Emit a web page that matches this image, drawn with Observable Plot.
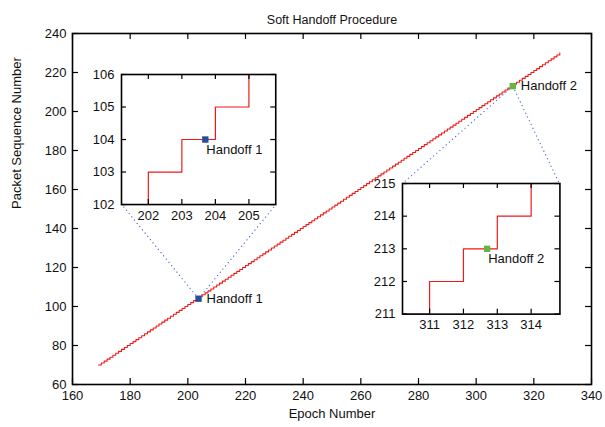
<!DOCTYPE html>
<html><head><meta charset="utf-8">
<script src="https://cdn.jsdelivr.net/npm/d3@7"></script>
<script src="https://cdn.jsdelivr.net/npm/@observablehq/plot@0.6"></script>
<style>
body{margin:0;background:#fff;}
#wrap{position:relative;width:605px;height:427px;}
#wrap svg{position:absolute;left:0;top:0;}
</style></head><body><div id="wrap"></div>
<script>
// Packet sequence staircase (epoch, sequence number)
const epochs = [169,170,171,172,173,174,175,176,177,178,179,
180,181,182,183,184,185,186,187,188,189,190,191,192,193,194,195,196,197,198,199,
200,201,202,203,204,205,206,207,208,209,210,211,212,213,214,215,216,217,218,219,
220,221,222,223,224,225,226,227,228,229,230,231,232,233,234,235,236,237,238,239,
240,241,242,243,244,245,246,247,248,249,250,251,252,253,254,255,256,257,258,259,
260,261,262,263,264,265,266,267,268,269,270,271,272,273,274,275,276,277,278,279,
280,281,282,283,284,285,286,287,288,289,290,291,292,293,294,295,296,297,298,299,
300,301,302,303,304,305,306,307,308,309,310,311,312,313,314,315,316,317,318,319,
320,321,322,323,324,325,326,327,328,329];
const seqs = [70,71,72,73,74,75,76,77,78,79,80,
81,82,83,84,85,86,87,88,89,90,91,92,93,94,95,96,97,98,99,100,
101,102,103,104,105,106,107,108,109,110,111,112,113,114,115,116,117,118,119,120,
121,122,123,124,125,126,127,128,129,130,131,132,133,134,135,136,137,138,139,140,
141,142,143,144,145,146,147,148,149,150,151,152,153,154,155,156,157,158,159,160,
161,162,163,164,165,166,167,168,169,170,171,172,173,174,175,176,177,178,179,180,
181,182,183,184,185,186,187,188,189,190,191,192,193,194,195,196,197,198,199,200,
201,202,203,204,205,206,207,208,209,210,211,212,213,214,215,216,217,218,219,220,
221,222,223,224,225,226,227,228,229,230];

const xTicks = [160,180,200,220,240,260,280,300,320,340];
const yTicks = [60,80,100,120,140,160,180,200,220,240];

const handoffNames = ["Handoff 1","Handoff 2"];
const handoffEpochs = [203.7, 312.7];
const handoffSeqs = [104, 213];
const handoffColors = ["#2b4b9b","#67b446"];

const inset1XTicks = [202,203,204,205];
const inset1YTicks = [102,103,104,105,106];
const inset2XTicks = [311,312,313,314];
const inset2YTicks = [211,212,213,214,215];
const inset1XDomain = [201.2,205.8], inset1YDomain = [102,106];
const inset2XDomain = [310.2,314.85], inset2YDomain = [211,215];

// inset placement, in main-axes coordinates
const inset1Box = {x1:177.1, x2:230.6, y1:152.3, y2:219};
const inset2Box = {x1:274.3, x2:328.9, y1:95.9, y2:162.9};

const FONT = "'Liberation Sans', Arial, Helvetica, sans-serif";
const RED = "#ee1a1a";
const pts = epochs.map((e,i)=>({x:e, y:seqs[i]}));
const handoffs = handoffNames.map((n,i)=>({name:n, x:handoffEpochs[i], y:handoffSeqs[i], c:handoffColors[i]}));
const links = [
  {x1:handoffEpochs[0], y1:handoffSeqs[0], x2:inset1Box.x1, y2:inset1Box.y1},
  {x1:handoffEpochs[0], y1:handoffSeqs[0], x2:inset1Box.x2, y2:inset1Box.y1},
  {x1:handoffEpochs[1], y1:handoffSeqs[1], x2:inset2Box.x1, y2:inset2Box.y2},
  {x1:handoffEpochs[1], y1:handoffSeqs[1], x2:inset2Box.x2, y2:inset2Box.y2}
];

const W = 605, H = 427, mL = 72, mR = 14, mT = 33, mB = 43;
const pW = W-mL-mR, pH = H-mT-mB;
const TK = 6;

const chart = Plot.plot({
  width: W, height: H,
  marginLeft: mL, marginRight: mR, marginTop: mT, marginBottom: mB,
  style: {fontFamily: FONT, fontSize: "13px", color: "#111", background: "transparent"},
  x: {domain: [160,340], label: null},
  y: {domain: [60,240], label: null},
  marks: [
    Plot.ruleX(xTicks, {insetTop: pH-TK, stroke:"#000", strokeWidth:1.2}),
    Plot.ruleX(xTicks, {insetBottom: pH-TK, stroke:"#000", strokeWidth:1.2}),
    Plot.ruleY(yTicks, {insetRight: pW-TK, stroke:"#000", strokeWidth:1.2}),
    Plot.ruleY(yTicks, {insetLeft: pW-TK, stroke:"#000", strokeWidth:1.2}),
    Plot.axisX(xTicks, {tickSize:0, tickPadding:6, fontSize:13, label:null}),
    Plot.axisY(yTicks, {tickSize:0, tickPadding:6, fontSize:13, label:null}),
    Plot.link(links, {x1:"x1", y1:"y1", x2:"x2", y2:"y2", stroke:"#4a6cc4", strokeWidth:1.1, strokeDasharray:"1.2,3"}),
    Plot.line(pts, {x:"x", y:"y", curve:"step-after", stroke:RED, strokeWidth:1.1}),
    Plot.dot(handoffs, {x:"x", y:"y", symbol:"square", r:3.6, fill:"c", stroke:null}),
    Plot.text(handoffs, {x:"x", y:"y", text:"name", textAnchor:"start", dx:8, fontSize:13, fill:"#111"}),
    Plot.frame({stroke:"#000", strokeWidth:1.6}),
    Plot.text(["Soft Handoff Procedure"], {frameAnchor:"top", dy:-18, fontSize:12.5, fill:"#111"}),
    Plot.text(["Epoch Number"], {frameAnchor:"bottom", dy:33, fontSize:13, fill:"#111"}),
    Plot.text(["Packet Sequence Number"], {frameAnchor:"left", dx:-56, rotate:-90, fontSize:13, fill:"#111"})
  ]
});
const wrap = document.getElementById("wrap");
wrap.appendChild(chart);

function makeInset(xDomain, yDomain, xt, yt, hi, box) {
  const sx = chart.scale("x"), sy = chart.scale("y");
  const left = sx.apply(box.x1), right = sx.apply(box.x2);
  const top = sy.apply(box.y2), bottom = sy.apply(box.y1);
  const w = right-left, h = bottom-top;
  const iL = 40, iR = 10, iT = 12, iB = 26, tk = 5;
  const p = Plot.plot({
    width: w+iL+iR, height: h+iT+iB,
    marginLeft: iL, marginRight: iR, marginTop: iT, marginBottom: iB,
    style: {fontFamily: FONT, fontSize: "13px", color: "#111", background: "transparent"},
    x: {domain: xDomain, label: null},
    y: {domain: yDomain, label: null},
    marks: [
      Plot.frame({fill:"white"}),
      Plot.line(pts, {x:"x", y:"y", curve:"step-after", stroke:RED, strokeWidth:1.2, clip:true}),
      Plot.ruleX(xt, {insetTop: h-tk, stroke:"#000", strokeWidth:1.2}),
      Plot.ruleX(xt, {insetBottom: h-tk, stroke:"#000", strokeWidth:1.2}),
      Plot.ruleY(yt, {insetRight: w-tk, stroke:"#000", strokeWidth:1.2}),
      Plot.ruleY(yt, {insetLeft: w-tk, stroke:"#000", strokeWidth:1.2}),
      Plot.frame({stroke:"#000", strokeWidth:1.6}),
      Plot.axisX(xt, {tickSize:0, tickPadding:6, fontSize:13, label:null}),
      Plot.axisY(yt, {tickSize:0, tickPadding:7, fontSize:13, label:null}),
      Plot.dot([hi], {x:"x", y:"y", symbol:"square", r:3.6, fill:"c", stroke:null}),
      Plot.text([hi], {x:"x", y:"y", text:"name", textAnchor:"start", dx:1, dy:10, fontSize:13, fill:"#111"})
    ]
  });
  p.style.left = (left-iL)+"px";
  p.style.top = (top-iT)+"px";
  wrap.appendChild(p);
}
makeInset(inset1XDomain, inset1YDomain, inset1XTicks, inset1YTicks, handoffs[0], inset1Box);
makeInset(inset2XDomain, inset2YDomain, inset2XTicks, inset2YTicks, handoffs[1], inset2Box);
</script></body></html>
